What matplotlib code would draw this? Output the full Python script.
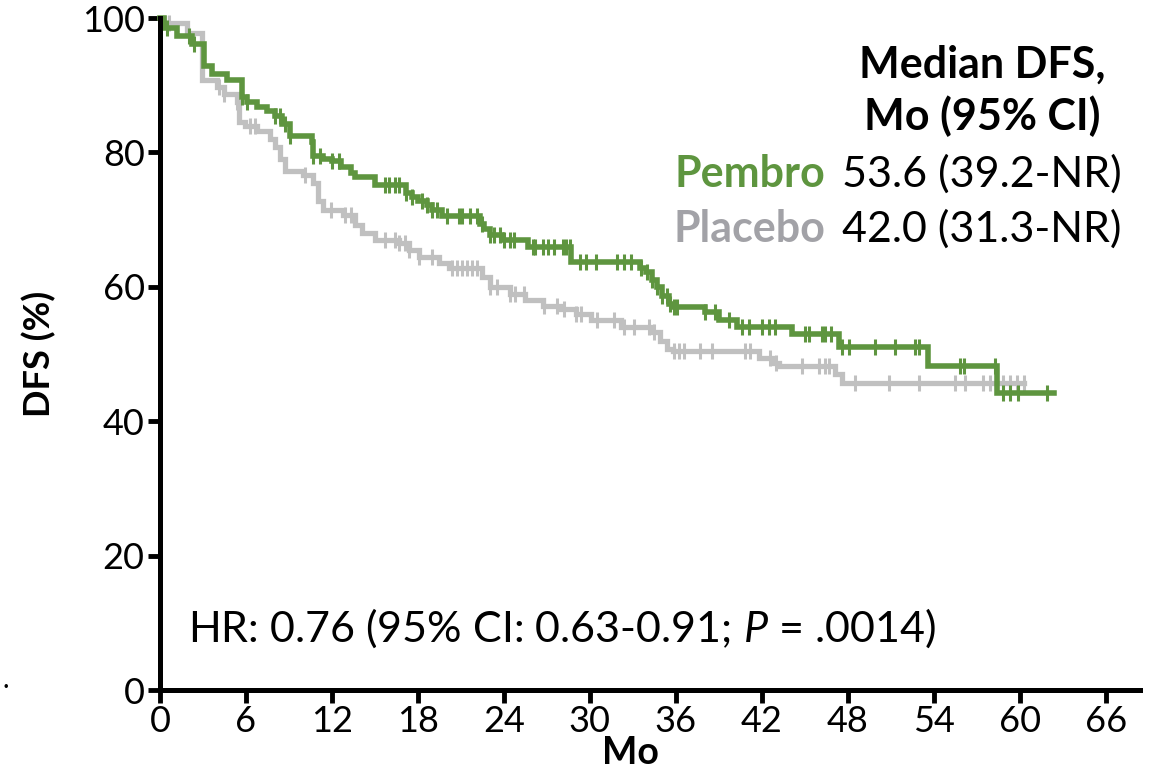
# KM plot - DFS, pembro vs placebo
import numpy as np
import matplotlib
matplotlib.use('Agg')
import matplotlib.pyplot as plt

plt.rcParams['font.family'] = ['Lato', 'DejaVu Sans']
plt.rcParams['mathtext.fontset'] = 'custom'
plt.rcParams['mathtext.rm'] = 'Lato'
plt.rcParams['mathtext.it'] = 'Lato:italic'

#-------------------------------------------------------------------------------
# data (months, % disease free)

pembro_t = [0, 0.3, 1.2, 2.2, 3.1, 3.6, 4.7, 5.7, 6.1, 6.8, 7.5, 8.0, 8.5, 9.1, 10.6, 10.7,
            11.4, 12.0, 12.6, 13.3, 13.6, 15.0, 17.2, 17.6, 18.0, 18.6, 19.0, 19.7, 22.3,
            22.6, 23.0, 23.9, 25.7, 28.7, 33.5, 33.9, 34.3, 34.7, 35.0, 35.5, 35.8, 38.0,
            39.0, 40.3, 44.1, 47.4, 53.6, 58.4]
pembro_s = [100, 98.5, 97.3, 96.2, 92.8, 91.7, 90.7, 88.3, 87.5, 86.8, 86.2, 85.4, 84.2, 82.4,
            81.5, 79.4, 79.0, 78.7, 77.9, 77.0, 76.4, 75.2, 74.0, 73.4, 72.8, 72.2, 71.5, 70.5,
            69.3, 68.6, 67.7, 67.0, 65.9, 63.7, 62.8, 62.2, 61.0, 60.0, 58.7, 57.5, 57.0,
            56.2, 55.0, 54.0, 53.0, 51.0, 48.2, 44.2]
pembro_end = 62.4
pembro_cens = [0.5, 2.0, 2.4, 5.7, 6.1, 8.0, 8.4, 8.7, 9.1, 10.7, 11.2, 12.0, 12.5, 15.7, 16.0,
               16.4, 16.7, 17.2, 17.6, 18.3, 18.6, 19.0, 19.3, 20.0, 20.9, 21.1, 21.6, 22.1,
               22.5, 23.0, 23.3, 23.7, 24.0, 24.4, 24.7, 26.0, 26.2, 26.7, 27.1, 27.5, 28.1,
               28.3, 28.6, 29.3, 29.7, 30.4, 31.9, 32.4, 32.9, 33.6, 34.0, 34.3, 34.7, 35.0,
               35.4, 35.6, 35.9, 36.1, 38.0, 38.7, 39.7, 40.6, 41.1, 42.0, 42.5, 42.9, 45.0,
               45.3, 46.2, 46.4, 46.8, 47.6, 48.1, 49.9, 51.3, 52.7, 53.0, 55.8, 56.1, 58.3,
               58.8, 59.3, 59.9, 61.9]

placebo_t = [0, 0.3, 1.9, 2.9, 4.0, 4.5, 5.4, 5.5, 5.9, 6.8, 7.7, 8.0, 8.4, 8.7, 10.0, 10.7,
             11.0, 11.4, 12.8, 13.6, 14.1, 15.0, 16.7, 17.4, 18.1, 19.5, 20.2, 22.5, 23.0,
             24.4, 25.5, 26.7, 28.0, 29.0, 30.1, 32.2, 34.3, 34.9, 35.4, 35.8, 41.8, 42.7,
             43.2, 47.1, 47.6]
placebo_s = [100, 99.2, 97.7, 90.7, 89.8, 88.7, 87.5, 84.5, 84.0, 83.2, 82.0, 80.8, 79.0, 77.2,
             76.7, 75.5, 72.7, 71.5, 70.7, 69.2, 68.0, 67.0, 66.5, 65.5, 64.4, 63.5, 62.8,
             61.4, 59.9, 59.0, 58.0, 57.2, 56.7, 56.0, 55.0, 54.0, 53.2, 52.0, 50.8, 50.5,
             49.4, 48.7, 48.2, 47.0, 45.7]
placebo_end = 60.3
placebo_cens = [0.6, 4.1, 4.5, 5.4, 6.3, 6.6, 10.1, 11.9, 12.9, 13.3, 15.7, 16.4, 16.7, 17.1,
                17.4, 18.1, 19.0, 20.4, 20.7, 21.1, 21.4, 21.8, 22.1, 23.0, 23.5, 24.4, 24.8,
                25.4, 26.8, 27.7, 28.2, 29.0, 29.4, 30.5, 31.7, 32.4, 33.1, 34.1, 34.5, 35.9,
                36.2, 36.6, 37.7, 38.5, 40.8, 41.2, 42.6, 43.0, 44.8, 46.0, 46.4, 46.7, 48.5,
                50.9, 53.0, 55.5, 56.2, 57.4, 57.9, 58.8, 59.3, 59.8, 60.3]

x_ticks = list(range(0, 67, 6))
y_ticks = [0, 20, 40, 60, 80, 100]

green = '#5e953f'
grey = '#c0c0c0'
grey_text = '#a2a2a7'

W, H = 1158, 773

#-------------------------------------------------------------------------------

def px(x, y):
	# pixel position -> figure fraction
	return x / W, 1 - y / H


def km_curve(ax, t, s, t_end, cens, color, lw):
	tt = list(t) + [t_end]
	ss = list(s) + [s[-1]]
	ax.step(tt, ss, where='post', color=color, lw=lw, clip_on=False, solid_joinstyle='miter')
	idx = np.searchsorted(np.array(t), np.array(cens), side='right') - 1
	cy = np.array(s)[idx]
	ax.plot(cens, cy, ls='none', marker='|', ms=12, mew=2.2, color=color, clip_on=False)


fig = plt.figure(figsize=(W / 100, H / 100), dpi=100)
ax = fig.add_axes([160 / W, 1 - 690 / H, 980 / W, 672 / H])

km_curve(ax, placebo_t, placebo_s, placebo_end, placebo_cens, grey, 3.8)
km_curve(ax, pembro_t, pembro_s, pembro_end, pembro_cens, green, 4.0)

ax.set_xlim(0, 980 / 14.33)
ax.set_ylim(0, 100)
ax.set_xticks(x_ticks)
ax.set_yticks(y_ticks)
ax.tick_params(width=3.5, length=9, labelsize=26, pad=2)
for side in ['top', 'right']:
	ax.spines[side].set_visible(False)
for side in ['left', 'bottom']:
	ax.spines[side].set_linewidth(3.6)

ax.set_xlabel('Mo', fontsize=27, fontweight='bold')
ax.xaxis.set_label_coords(0.48, -0.068)
ax.set_ylabel('DFS (%)', fontsize=26, fontweight='bold')
ax.yaxis.set_label_coords(-0.106, 0.5)

# median box
fig.text(*px(982, 78), 'Median DFS,', fontsize=31, fontweight='bold', ha='center', va='baseline')
fig.text(*px(982, 130), 'Mo (95% CI)', fontsize=31, fontweight='bold', ha='center', va='baseline')
fig.text(*px(825, 187), 'Pembro', fontsize=31, fontweight='bold', color=green, ha='right', va='baseline')
fig.text(*px(842, 187), '53.6 (39.2-NR)', fontsize=31, ha='left', va='baseline')
fig.text(*px(825, 242), 'Placebo', fontsize=31, fontweight='bold', color=grey_text, ha='right', va='baseline')
fig.text(*px(842, 242), '42.0 (31.3-NR)', fontsize=31, ha='left', va='baseline')

fig.text(*px(188, 642), r'HR: 0.76 (95% CI: 0.63-0.91; $\mathit{P}$ = .0014)', fontsize=31,
		 ha='left', va='baseline')

fig.text(*px(3, 688), '.', fontsize=20, ha='left', va='baseline')

fig.savefig('out.png', dpi=100)
